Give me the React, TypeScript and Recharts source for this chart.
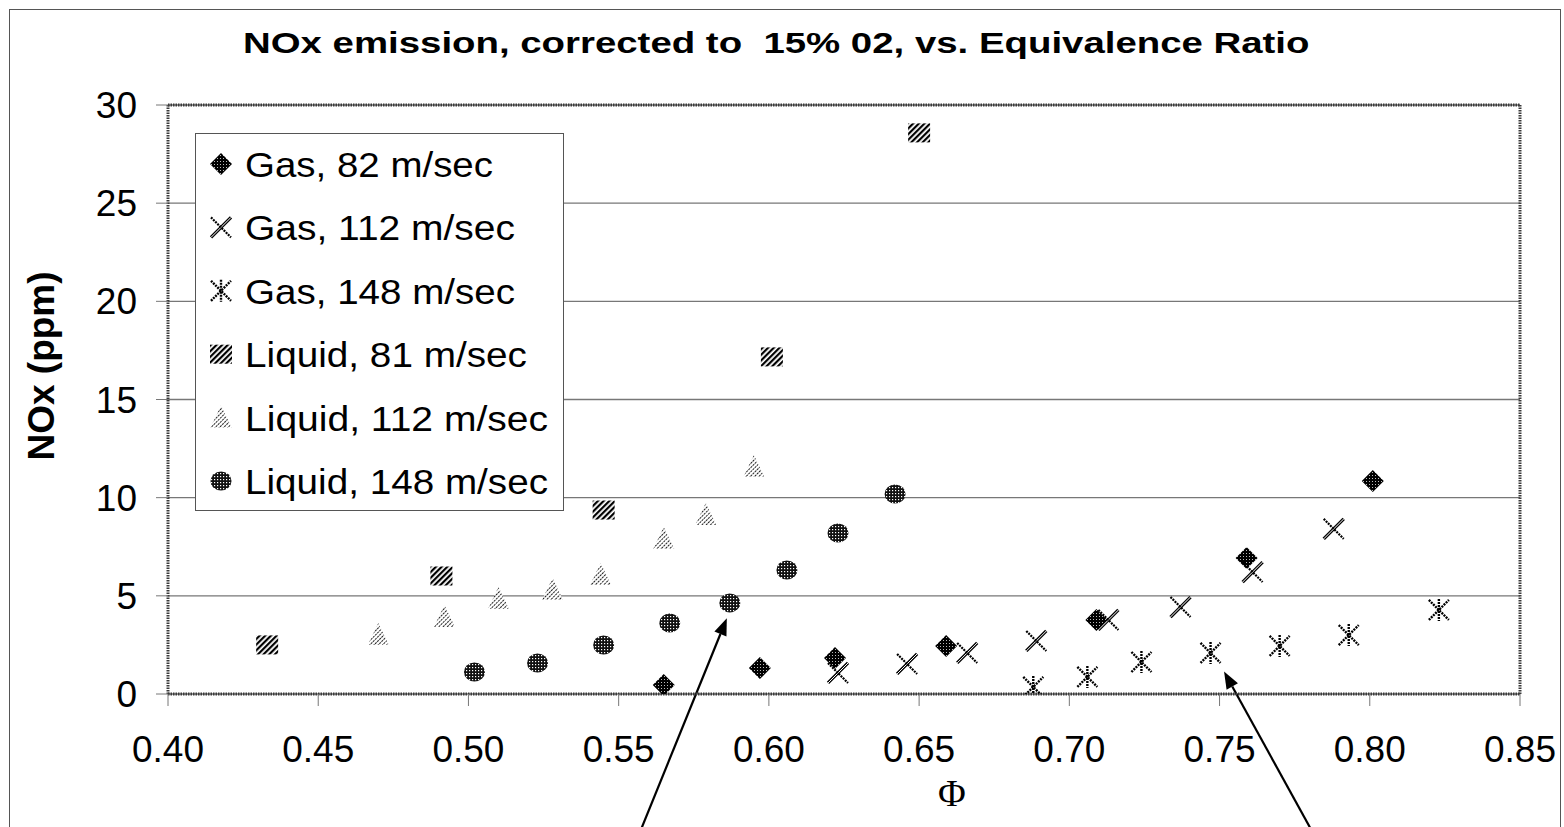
import React from 'react'
import {
  ScatterChart,
  Scatter,
  XAxis,
  YAxis,
  CartesianGrid,
  Legend,
  ReferenceLine,
} from 'recharts'

// axis ticks
const phiTicks = [0.4, 0.45, 0.5, 0.55, 0.6, 0.65, 0.7, 0.75, 0.8, 0.85]
const noxTicks = [0, 5, 10, 15, 20, 25, 30]

// series
const gas82Phi = [0.565, 0.597, 0.622, 0.659, 0.709, 0.759, 0.801]
const gas82Nox = [0.46, 1.32, 1.83, 2.45, 3.77, 6.93, 10.85]

const gas112Phi = [0.623, 0.646, 0.666, 0.689, 0.713, 0.737, 0.761, 0.788]
const gas112Nox = [1.07, 1.53, 2.09, 2.7, 3.77, 4.43, 6.21, 8.41]

const gas148Phi = [0.688, 0.706, 0.724, 0.747, 0.77, 0.793, 0.823]
const gas148Nox = [0.36, 0.87, 1.63, 2.09, 2.45, 3.0, 4.28]

const liq81Phi = [0.433, 0.491, 0.545, 0.601, 0.65]
const liq81Nox = [2.5, 6.01, 9.37, 17.17, 28.58]

const liq112Phi = [0.47, 0.492, 0.51, 0.528, 0.544, 0.565, 0.579, 0.595]
const liq112Nox = [3.0, 3.92, 4.84, 5.3, 6.06, 7.9, 9.12, 11.56]

const liq148Phi = [0.502, 0.523, 0.545, 0.567, 0.587, 0.606, 0.623, 0.642]
const liq148Nox = [1.12, 1.58, 2.5, 3.62, 4.64, 6.32, 8.2, 10.19]

// annotation arrows: [tail, tip] in data units
const arrow1 = [{ x: 0.5577, y: -6.8 }, { x: 0.586, y: 3.86 }]
const arrow2 = [{ x: 0.7801, y: -6.8 }, { x: 0.7515, y: 1.14 }]

const toPoints = (phi: number[], nox: number[]) => phi.map((x, i) => ({ x, y: nox[i] }))

const FONT = '"Liberation Sans", Arial, sans-serif'

const Diamond = ({ cx, cy }: any) => (
  <polygon
    points={`${cx},${cy - 11} ${cx + 11},${cy} ${cx},${cy + 11} ${cx - 11},${cy}`}
    fill="url(#pDark)"
  />
)

const Cross = ({ cx, cy }: any) => (
  <g>
    <line x1={cx - 10} y1={cy + 10} x2={cx + 10} y2={cy - 10} stroke="#000" strokeWidth={3.2} />
    <line x1={cx - 10} y1={cy + 10} x2={cx + 10} y2={cy - 10} stroke="#fff" strokeWidth={1} />
    <line x1={cx - 10} y1={cy - 10} x2={cx + 10} y2={cy + 10} stroke="#000" strokeWidth={2.2} strokeDasharray="2 1" />
  </g>
)

const Star = ({ cx, cy }: any) => (
  <g stroke="#000" strokeWidth={2.4} strokeDasharray="2 1">
    <line x1={cx - 10} y1={cy + 10} x2={cx + 10} y2={cy - 10} />
    <line x1={cx - 10} y1={cy - 10} x2={cx + 10} y2={cy + 10} />
    <line x1={cx} y1={cy - 11} x2={cx} y2={cy + 11} />
  </g>
)

const Square = ({ cx, cy }: any) => (
  <rect x={cx - 11} y={cy - 9.5} width={22} height={19} fill="url(#pStripe)" />
)

const Triangle = ({ cx, cy }: any) => (
  <polygon
    points={`${cx},${cy - 12} ${cx + 10.5},${cy + 10} ${cx - 10.5},${cy + 10}`}
    fill="url(#pLight)"
  />
)

const Circle = ({ cx, cy }: any) => (
  <ellipse cx={cx} cy={cy} rx={10.5} ry={9.5} fill="url(#pDots)" />
)

const series = [
  { name: 'Gas, 82 m/sec', data: toPoints(gas82Phi, gas82Nox), shape: Diamond, len: 248 },
  { name: 'Gas, 112 m/sec', data: toPoints(gas112Phi, gas112Nox), shape: Cross, len: 270 },
  { name: 'Gas, 148 m/sec', data: toPoints(gas148Phi, gas148Nox), shape: Star, len: 270 },
  { name: 'Liquid, 81 m/sec', data: toPoints(liq81Phi, liq81Nox), shape: Square, len: 282 },
  { name: 'Liquid, 112 m/sec', data: toPoints(liq112Phi, liq112Nox), shape: Triangle, len: 303 },
  { name: 'Liquid, 148 m/sec', data: toPoints(liq148Phi, liq148Nox), shape: Circle, len: 303 },
]

const Arrow = (props: any) => {
  const { x1, y1, x2, y2 } = props
  const ang = Math.atan2(y2 - y1, x2 - x1)
  const head = 17
  const half = 6.5
  const bx = x2 - head * Math.cos(ang)
  const by = y2 - head * Math.sin(ang)
  const px = -Math.sin(ang) * half
  const py = Math.cos(ang) * half
  return (
    <g>
      <line x1={x1} y1={y1} x2={bx} y2={by} stroke="#000" strokeWidth={2.2} />
      <polygon points={`${x2},${y2} ${bx + px},${by + py} ${bx - px},${by - py}`} fill="#000" />
    </g>
  )
}

const renderLegend = () => (
  <svg width={370} height={380} style={{ display: 'block' }}>
    <rect x={0.5} y={0.5} width={368} height={377} fill="#fff" stroke="#555" strokeWidth={1} />
    {series.map((s, i) => {
      const Shape = s.shape
      const cy = 31 + i * 63.4
      return (
        <g key={s.name}>
          <Shape cx={26} cy={cy} />
          <text
            x={50}
            y={cy + 13}
            fontFamily={FONT}
            fontSize={35}
            fill="#000"
            textLength={s.len}
            lengthAdjust="spacingAndGlyphs"
          >
            {s.name}
          </text>
        </g>
      )
    })}
  </svg>
)

const hatch = { stroke: '#3a3a3a', strokeWidth: 3, strokeDasharray: '1.5 1' }

export default function App() {
  return (
    <div style={{ position: 'absolute', left: 0, top: 0, width: 1564, height: 827, background: '#fff', overflow: 'hidden' }}>
      <svg width={0} height={0} style={{ position: 'absolute' }}>
        <defs>
          <pattern id="pDark" width={3} height={3} patternUnits="userSpaceOnUse">
            <rect width={3} height={3} fill="#000" />
            <rect x={1} y={1} width={1} height={1} fill="#bbb" />
          </pattern>
          <pattern id="pDots" width={3} height={3} patternUnits="userSpaceOnUse">
            <rect width={3} height={3} fill="#111" />
            <rect x={1} y={1} width={1.2} height={1.2} fill="#fff" />
          </pattern>
          <pattern id="pStripe" width={4} height={4} patternUnits="userSpaceOnUse" patternTransform="rotate(45)">
            <rect width={4} height={4} fill="#fff" />
            <rect width={2.2} height={4} fill="#000" />
          </pattern>
          <pattern id="pLight" width={3} height={3} patternUnits="userSpaceOnUse" patternTransform="rotate(45)">
            <rect width={3} height={3} fill="#fff" />
            <rect width={1} height={3} fill="#222" />
            <rect y={1} width={1} height={0.8} fill="#fff" />
          </pattern>
        </defs>
      </svg>

      <ScatterChart
        width={1564}
        height={827}
        margin={{ top: 105, right: 44, bottom: 63, left: 108 }}
      >
        <CartesianGrid vertical={false} stroke="#777" strokeWidth={1.3} />
        <XAxis
          type="number"
          dataKey="x"
          domain={[0.4, 0.85]}
          ticks={phiTicks}
          interval={0}
          allowDataOverflow
          height={70}
          tickSize={12}
          tickMargin={30}
          tickFormatter={(v: number) => v.toFixed(2)}
          tick={{ fontFamily: FONT, fontSize: 37, fill: '#000' }}
          tickLine={{ stroke: '#777', strokeWidth: 1 }}
          axisLine={hatch}
        />
        <YAxis
          type="number"
          dataKey="y"
          domain={[0, 30]}
          ticks={noxTicks}
          interval={0}
          allowDataOverflow
          width={60}
          tickSize={12}
          tickMargin={19}
          tick={{ fontFamily: FONT, fontSize: 37, fill: '#000' }}
          tickLine={{ stroke: '#777', strokeWidth: 1 }}
          axisLine={hatch}
        />
        <ReferenceLine y={30} {...hatch} />
        <ReferenceLine x={0.85} {...hatch} />
        {series.map((s) => (
          <Scatter
            key={s.name}
            name={s.name}
            data={s.data}
            shape={s.shape}
            isAnimationActive={false}
          />
        ))}
        <ReferenceLine segment={arrow1} ifOverflow="visible" shape={Arrow} />
        <ReferenceLine segment={arrow2} ifOverflow="visible" shape={Arrow} />
        <Legend
          layout="vertical"
          align="center"
          verticalAlign="middle"
          content={renderLegend}
          wrapperStyle={{ left: 195, top: 133, width: 370, height: 380 }}
        />
      </ScatterChart>

      <svg
        width={1564}
        height={827}
        style={{ position: 'absolute', left: 0, top: 0, pointerEvents: 'none' }}
      >
        <rect x={9.5} y={9.5} width={1551} height={900} fill="none" stroke="#555" strokeWidth={1} />
        <text
          transform="translate(243, 53) scale(1.28, 1)"
          x={0}
          y={0}
          fontFamily={FONT}
          fontWeight="bold"
          fontSize={30}
          fill="#000"
          style={{ whiteSpace: 'pre' }}
        >
          NOx emission, corrected to  15% 02, vs. Equivalence Ratio
        </text>
        <text
          transform="translate(54, 366) rotate(-90)"
          textAnchor="middle"
          fontFamily={FONT}
          fontWeight="bold"
          fontSize={37}
          fill="#000"
        >
          NOx (ppm)
        </text>
        <text
          x={952}
          y={806}
          textAnchor="middle"
          fontFamily='"Liberation Serif", "Times New Roman", serif'
          fontSize={38}
          fill="#000"
        >
          Φ
        </text>
      </svg>
    </div>
  )
}
